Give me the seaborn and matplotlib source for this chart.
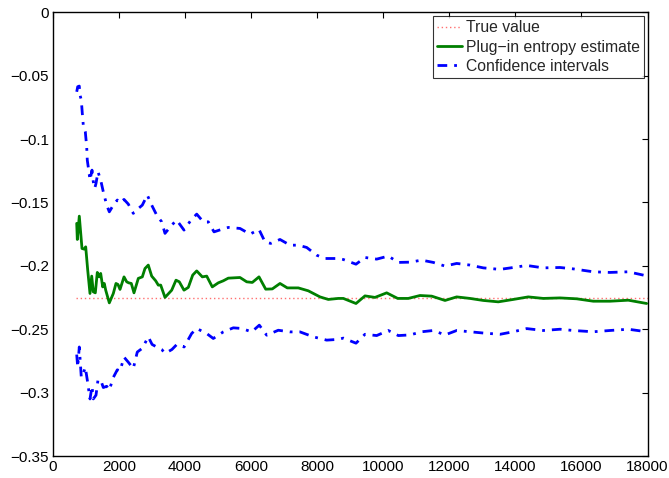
import matplotlib
matplotlib.use("Agg")
import matplotlib.pyplot as plt
import seaborn as sns
import pandas as pd

# ---- data ----
true_value = -0.2257
true_x = [700, 18000]

est_x = [718, 736, 796, 878, 939, 990, 1051, 1120, 1172, 1220, 1281, 1341, 1402, 1444, 1505,
         1553, 1596, 1705, 1826, 1907, 1968, 2029, 2150, 2231, 2292, 2371, 2452, 2583, 2704,
         2785, 2885, 2988, 3109, 3188, 3261, 3391, 3594, 3724, 3824, 3966, 4097, 4230, 4351,
         4521, 4654, 4823, 5005, 5156, 5308, 5662, 5865, 6034, 6237, 6440, 6640, 6873, 7094,
         7427, 7730, 8084, 8335, 8638, 8790, 9174, 9446, 9749, 10103, 10436, 10757, 11112,
         11466, 11869, 12223, 12625, 13028, 13482, 13936, 14390, 14845, 15350, 15856, 16359,
         16864, 17418, 17975]
est_y = [-0.1665, -0.1792, -0.1608, -0.1863, -0.1868, -0.1850, -0.2034, -0.2218, -0.2081,
         -0.2205, -0.2213, -0.2052, -0.2087, -0.2060, -0.2166, -0.2139, -0.2192, -0.2292,
         -0.2218, -0.2139, -0.2147, -0.2186, -0.2087, -0.2126, -0.2134, -0.2139, -0.2213,
         -0.2099, -0.2087, -0.2021, -0.1994, -0.2081, -0.2118, -0.2152, -0.2152, -0.2249,
         -0.2192, -0.2113, -0.2126, -0.2192, -0.2170, -0.2073, -0.2040, -0.2087, -0.2081,
         -0.2166, -0.2134, -0.2118, -0.2097, -0.2092, -0.2126, -0.2131, -0.2087, -0.2184,
         -0.2182, -0.2139, -0.2174, -0.2174, -0.2197, -0.2245, -0.2265, -0.2257, -0.2257,
         -0.2297, -0.2237, -0.2249, -0.2213, -0.2257, -0.2257, -0.2234, -0.2239, -0.2273,
         -0.2245, -0.2257, -0.2273, -0.2284, -0.2265, -0.2245, -0.2257, -0.2253, -0.2260,
         -0.2279, -0.2279, -0.2271, -0.2297]

up_x = [718, 748, 796, 818, 857, 887, 917, 978, 1020, 1038, 1081, 1120, 1181, 1220, 1263,
        1302, 1362, 1444, 1523, 1626, 1705, 1826, 1947, 2029, 2150, 2280, 2431, 2552, 2704,
        2855, 2988, 3140, 3291, 3391, 3594, 3745, 3966, 4178, 4351, 4551, 4702, 4875, 5156,
        5308, 5662, 5965, 6237, 6419, 6591, 6873, 7176, 7427, 7681, 7984, 8235, 8638, 8790,
        9174, 9446, 9800, 10152, 10455, 10809, 11163, 11515, 11869, 12223, 12625, 13028,
        13534, 13936, 14342, 14845, 15350, 15753, 16359, 16864, 17418, 17975]
up_y = [-0.0627, -0.0587, -0.0582, -0.0653, -0.0692, -0.0797, -0.0890, -0.0942, -0.1061,
        -0.1166, -0.1245, -0.1324, -0.1245, -0.1337, -0.1389, -0.1350, -0.1258, -0.1324,
        -0.1416, -0.1521, -0.1574, -0.1521, -0.1481, -0.1503, -0.1476, -0.1513, -0.1586,
        -0.1555, -0.1521, -0.1442, -0.1521, -0.1600, -0.1653, -0.1744, -0.1679, -0.1639,
        -0.1718, -0.1639, -0.1592, -0.1653, -0.1653, -0.1732, -0.1708, -0.1697, -0.1705,
        -0.1750, -0.1713, -0.1811, -0.1823, -0.1792, -0.1837, -0.1837, -0.1855, -0.1916,
        -0.1942, -0.1942, -0.1950, -0.1987, -0.1934, -0.1947, -0.1923, -0.1973, -0.1971,
        -0.1955, -0.1973, -0.2002, -0.1981, -0.1994, -0.2016, -0.2028, -0.2013, -0.1997,
        -0.2016, -0.2013, -0.2024, -0.2047, -0.2052, -0.2047, -0.2079]

low_x = [718, 748, 796, 857, 917, 978, 1038, 1120, 1181, 1220, 1302, 1362, 1444, 1523,
         1626, 1705, 1826, 1947, 2029, 2150, 2280, 2431, 2552, 2704, 2885, 3000, 3140,
         3290, 3400, 3600, 3750, 3970, 4197, 4351, 4654, 4853, 5156, 5459, 5713, 6016,
         6246, 6470, 6821, 7176, 7478, 7881, 8287, 8640, 8790, 9174, 9446, 9800, 10150,
         10455, 10809, 11163, 11515, 11869, 12223, 12625, 13028, 13534, 13936, 14342,
         14845, 15350, 15753, 16359, 16864, 17418, 17975]
low_y = [-0.2700, -0.2800, -0.2640, -0.2880, -0.2850, -0.2800, -0.2900, -0.3050, -0.2950,
         -0.3050, -0.3020, -0.2900, -0.2900, -0.2960, -0.2950, -0.2980, -0.2880, -0.2820,
         -0.2830, -0.2720, -0.2760, -0.2810, -0.2680, -0.2650, -0.2560, -0.2620, -0.2640,
         -0.2660, -0.2690, -0.2660, -0.2620, -0.2640, -0.2534, -0.2494, -0.2534, -0.2573,
         -0.2521, -0.2489, -0.2494, -0.2521, -0.2468, -0.2547, -0.2508, -0.2521, -0.2521,
         -0.2560, -0.2586, -0.2580, -0.2570, -0.2610, -0.2540, -0.2550, -0.2510, -0.2550,
         -0.2545, -0.2520, -0.2510, -0.2545, -0.2510, -0.2520, -0.2530, -0.2540, -0.2520,
         -0.2495, -0.2510, -0.2500, -0.2510, -0.2520, -0.2510, -0.2500, -0.2520]

labels = ["True value", "Plug\u2212in entropy estimate", "Confidence intervals"]
x_ticks = [0, 2000, 4000, 6000, 8000, 10000, 12000, 14000, 16000, 18000]
y_ticks = [-0.35, -0.3, -0.25, -0.2, -0.15, -0.1, -0.05, 0]
y_tick_labels = ["\u22120.35", "\u22120.3", "\u22120.25", "\u22120.2", "\u22120.15",
                 "\u22120.1", "\u22120.05", "0"]

# ---- drawing ----
sns.set_style("white")
plt.rcParams["font.family"] = ["Liberation Sans", "DejaVu Sans"]

fig = plt.figure(figsize=(6.69, 4.78), dpi=100)
ax = fig.add_axes([53 / 669, 1 - 456 / 478, (647.5 - 53) / 669, (456 - 12.3) / 478])

sns.lineplot(x=true_x, y=[true_value, true_value], ax=ax, color="#ff7070",
             linestyle=(0, (1, 2)), linewidth=1.0, label=labels[0], zorder=2)
sns.lineplot(x=est_x, y=est_y, ax=ax, color="#007f00", linewidth=2.0,
             label=labels[1], zorder=3, sort=False)
sns.lineplot(x=up_x, y=up_y, ax=ax, color="#0000ff", linewidth=2.0,
             linestyle=(0, (3.5, 2.5, 1, 2.5)), label=labels[2], zorder=3, sort=False)
sns.lineplot(x=low_x, y=low_y, ax=ax, color="#0000ff", linewidth=2.0,
             linestyle=(0, (3.5, 2.5, 1, 2.5)), zorder=3, sort=False)

ax.set_xlim(0, 18000)
ax.set_ylim(-0.35, 0)
ax.set_xticks(x_ticks)
ax.set_xticklabels([str(t) for t in x_ticks])
ax.set_yticks(y_ticks)
ax.set_yticklabels(y_tick_labels)
ax.tick_params(direction="in", length=4, width=0.8, top=True, right=True,
               labelsize=11, colors="black", pad=3)
for s in ax.spines.values():
    s.set_visible(True)
    s.set_color("black")
    s.set_linewidth(1.0)
ax.set_xlabel("")
ax.set_ylabel("")

leg = ax.legend(loc="upper right", fontsize=11.3, frameon=True, fancybox=False,
                edgecolor="black", handlelength=1.6, handletextpad=0.25,
                borderpad=0.25, labelspacing=0.28, borderaxespad=0.25)
leg.get_frame().set_linewidth(0.8)

fig.savefig("out.png", dpi=100)
